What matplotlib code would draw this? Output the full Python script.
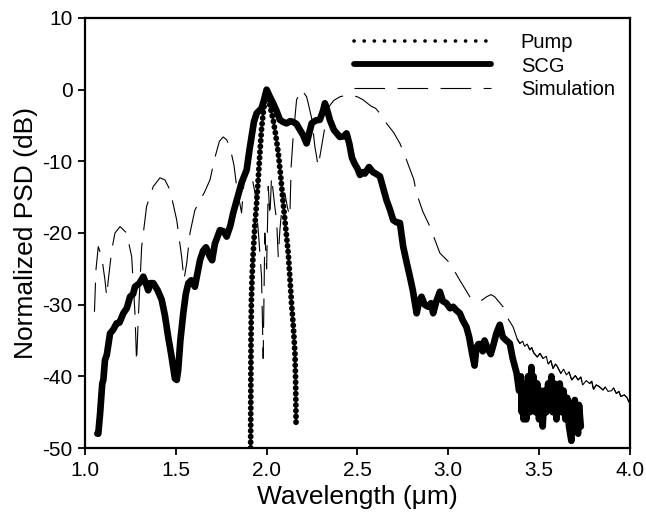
import matplotlib
matplotlib.use("Agg")
import matplotlib.pyplot as plt
from matplotlib.lines import Line2D

plt.rcParams['font.family'] = ['Liberation Sans', 'DejaVu Sans']
plt.rcParams['lines.scale_dashes'] = False
plt.rcParams['axes.unicode_minus'] = False

# Measured supercontinuum (SCG)
scg_x = [1.068, 1.073, 1.083, 1.095, 1.101, 1.11, 1.12, 1.138, 1.155, 1.174, 1.19, 1.211,
         1.23, 1.248, 1.265, 1.275, 1.3, 1.321, 1.335, 1.348, 1.36, 1.376, 1.4, 1.422,
         1.44, 1.458, 1.475, 1.495, 1.505, 1.513, 1.525, 1.541, 1.555, 1.569, 1.585,
         1.605, 1.62, 1.633, 1.65, 1.666, 1.688, 1.7, 1.715, 1.743, 1.765, 1.78, 1.8,
         1.816, 1.84, 1.862, 1.89, 1.905, 1.917, 1.93, 1.945, 1.972, 1.985, 2.0, 2.018,
         2.036, 2.055, 2.073, 2.09, 2.11, 2.13, 2.146, 2.165, 2.183, 2.2, 2.22, 2.235,
         2.248, 2.27, 2.293, 2.31, 2.321, 2.335, 2.348, 2.37, 2.403, 2.425, 2.44, 2.455,
         2.47, 2.484, 2.5, 2.514, 2.53, 2.541, 2.564, 2.585, 2.6, 2.624, 2.645, 2.66,
         2.68, 2.697, 2.715, 2.734, 2.752, 2.77, 2.789, 2.805, 2.826, 2.84, 2.853, 2.87,
         2.89, 2.905, 2.917, 2.935, 2.954, 2.97, 2.99, 3.01, 3.027, 3.045, 3.064, 3.08,
         3.1, 3.115, 3.132, 3.145, 3.155, 3.166, 3.18, 3.19, 3.2, 3.215, 3.234, 3.25,
         3.265, 3.284, 3.3, 3.32, 3.339, 3.355, 3.376, 3.39, 3.4, 3.405, 3.41, 3.415,
         3.42, 3.43, 3.44, 3.45, 3.458, 3.465, 3.47, 3.48, 3.49, 3.5, 3.51, 3.52, 3.53,
         3.54, 3.55, 3.56, 3.568, 3.575, 3.585, 3.596, 3.605, 3.614, 3.625, 3.635, 3.645,
         3.655, 3.665, 3.678, 3.685, 3.697, 3.705, 3.715, 3.72, 3.73]
scg_y = [-48, -48, -45.2, -41, -40.5, -37.7, -37, -34, -33.5, -32.6, -32.5, -31.2,
         -30.5, -28.9, -28.5, -27.5, -27, -26.1, -27, -28, -27, -27, -28, -29.3,
         -31.5, -34.5, -37, -40.3, -40.5, -39.1, -35, -31.2, -28.5, -27, -26.6,
         -27.5, -25.5, -23.8, -22.5, -22, -23.3, -23.8, -21.5, -19.6, -19.8, -20.5, -19,
         -17.2, -15, -13, -11.2, -8.5, -6.6, -4.5, -3.3, -2.6, -1.5, 0, -1,
         -1.9, -3, -4.2, -4.5, -4.7, -4.4, -4.5, -4.8, -5.6, -6.3, -7.5, -6,
         -4.7, -4.3, -4.2, -3, -1.9, -3, -4.2, -5.6, -6.6, -6.5, -6.1, -7.5,
         -9.5, -10.3, -11, -11.9, -11.5, -11.7, -10.8, -11.5, -11.7, -12.1, -14, -15.4,
         -16.8, -18.2, -18.5, -18.6, -21.9, -24, -26.1, -28, -31.2, -29.5, -28.9, -30,
         -30.3, -29.8, -31.2, -29.5, -28.2, -29.5, -29.8, -30.5, -30.3, -30.8, -31.2, -32.2,
         -33.1, -34.5, -36.9, -38.5, -36, -35.5, -35.5, -36.5, -35, -36, -36.9, -35.5,
         -34, -32.8, -34.5, -35, -35.4, -37.5, -39.5, -42, -40, -45, -41, -46,
         -42, -46, -40, -45, -38.7, -44, -40, -45, -41, -46, -42, -47, -42,
         -45, -41, -44, -40, -45, -41, -46, -42, -41, -45, -42, -46,
         -43, -47, -49, -44, -43.3, -47, -48, -44, -47]

# Pump spectrum
pump_x = [1.912, 1.913, 1.914, 1.916, 1.92, 1.926, 1.935, 1.945, 1.955, 1.963, 1.972,
          1.981, 1.992, 2.0, 2.012, 2.025, 2.036, 2.05, 2.064, 2.078, 2.091, 2.105,
          2.119, 2.128, 2.137, 2.147, 2.156, 2.16, 2.162]
pump_y = [-50, -42, -35, -29.5, -26, -22.8, -19, -15.8, -12, -8.8, -5.5,
          -3.3, -1.2, -0.3, -1.5, -3, -4.2, -6.3, -8.8, -12.2, -15.8, -19.3,
          -22.8, -26.2, -29.8, -33, -36.8, -41, -46.5]

# Simulation
sim_x = [1.052, 1.06, 1.073, 1.092, 1.11, 1.119, 1.128, 1.147, 1.165, 1.193, 1.229,
         1.257, 1.275, 1.284, 1.293, 1.312, 1.339, 1.376, 1.413, 1.44, 1.468, 1.505,
         1.532, 1.545, 1.56, 1.578, 1.605, 1.633, 1.66, 1.688, 1.715, 1.74, 1.761, 1.78,
         1.798, 1.82, 1.835, 1.862, 1.875, 1.895, 1.917, 1.936, 1.955, 1.972, 1.981,
         1.99, 2.0, 2.009, 2.018, 2.027, 2.045, 2.055, 2.064, 2.073, 2.083, 2.1, 2.115,
         2.128, 2.135, 2.146, 2.165, 2.193, 2.22, 2.229, 2.248, 2.266, 2.284, 2.302,
         2.321, 2.339, 2.37, 2.403, 2.45, 2.5, 2.53, 2.575, 2.6, 2.63, 2.66, 2.7, 2.734,
         2.77, 2.81, 2.826, 2.86, 2.899, 2.954, 3.009, 3.064, 3.119, 3.165, 3.19, 3.211,
         3.235, 3.256, 3.302, 3.33, 3.357, 3.38, 3.394, 3.41, 3.42, 3.435, 3.449, 3.46,
         3.47, 3.49, 3.505, 3.522, 3.54, 3.55, 3.565, 3.577, 3.59, 3.6, 3.62, 3.635,
         3.651, 3.665, 3.68, 3.7, 3.715, 3.73, 3.74, 3.76, 3.779, 3.79, 3.8, 3.815,
         3.83, 3.852, 3.865, 3.88, 3.9, 3.91, 3.926, 3.94, 3.95, 3.97, 3.985, 3.995]
sim_y = [-31, -25.2, -21.9, -23.3, -26.6, -28.8, -26.6, -22.4, -20, -19.1, -20,
         -23.3, -31.2, -38, -32.1, -21.9, -16.3, -13.5, -12.3, -12.6, -14, -18.2,
         -23.3, -26.5, -24.2, -20, -16.8, -15.5, -14.2, -12.6, -9.5, -7.2, -6.6, -7,
         -8, -10.5, -13.5, -17.2, -13, -10.5, -11.9, -14.4, -20, -26.1, -37.5,
         -20, -25, -13.5, -17.7, -12.2, -16.3, -18.2, -23.3, -19.6, -16.8, -14.4, -16.5,
         -17.7, -10.7, -6.6, -1.4, 0, -1, -1.9, -4, -8, -10.7, -8,
         -5.2, -2.5, -1.5, -1, -0.7, -1, -1.4, -2.3, -2.6, -3.5, -4.7, -6, -7.5,
         -9.8, -12.5, -14.5, -17, -19.1, -22.8, -24.2, -26.6, -28.9, -29.6, -29.3, -28.9,
         -28.6, -28.9, -30.3, -32, -33.1, -34.8, -35.4, -35.1, -35.8, -35.5, -36.3, -36,
         -36.7, -37.3, -36.8, -37.5, -37.2, -38.3, -37.8, -38.9, -38.3, -38.6, -39.6, -39,
         -39.8, -39.4, -40.5, -39.9, -40.5, -40.1, -41.2, -40.6, -41, -40.7, -41.8, -41.2,
         -41.4, -41.9, -41.5, -42.1, -42, -41.6, -42.4, -42.1, -42.8, -42.6, -43, -43.6]

fig = plt.figure(figsize=(6.46, 5.14), dpi=100)
ax = fig.add_axes([0.1316, 0.1284, 0.8434, 0.8366])

ax.plot(sim_x, sim_y, color='k', lw=0.8, linestyle=(0, (21, 9)))
tail = [i for i, v in enumerate(sim_x) if v >= 3.38]
ax.plot([sim_x[i] for i in tail], [sim_y[i] for i in tail], color='k', lw=0.8)
ax.plot(scg_x, scg_y, color='k', lw=4.8, solid_joinstyle='round', solid_capstyle='round')
ax.plot(pump_x, pump_y, color='k', lw=4.2, linestyle=(0, (0.1, 4.0)),
        dash_capstyle='round')

ax.set_xlim(1.0, 4.0)
ax.set_ylim(-50, 10)
ax.set_xticks([1.0, 1.5, 2.0, 2.5, 3.0, 3.5, 4.0])
ax.set_xticklabels(["1.0", "1.5", "2.0", "2.5", "3.0", "3.5", "4.0"])
ax.set_yticks([-50, -40, -30, -20, -10, 0, 10])
ax.tick_params(axis='both', direction='out', length=5, width=1.3, labelsize=15,
               top=False, right=False, pad=4)
for s in ax.spines.values():
    s.set_linewidth(1.6)

ax.set_xlabel("Wavelength (\u03bcm)", fontsize=19, labelpad=4)
ax.set_ylabel("Normalized PSD (dB)", fontsize=19, labelpad=3)

handles = [
    Line2D([], [], color='k', lw=2.6, linestyle=(0, (0.1, 7.2)), dash_capstyle='round'),
    Line2D([], [], color='k', lw=4.2, solid_capstyle='round'),
    Line2D([], [], color='k', lw=0.8, linestyle=(0, (22, 9))),
]
ax.legend(handles, ["Pump", "SCG", "Simulation"], loc='upper right', frameon=False,
          fontsize=14.5, handlelength=6.8, handletextpad=1.5, labelspacing=0.22,
          borderaxespad=0.35, bbox_to_anchor=(1.0, 1.0))

fig.savefig("out.png", dpi=100)
